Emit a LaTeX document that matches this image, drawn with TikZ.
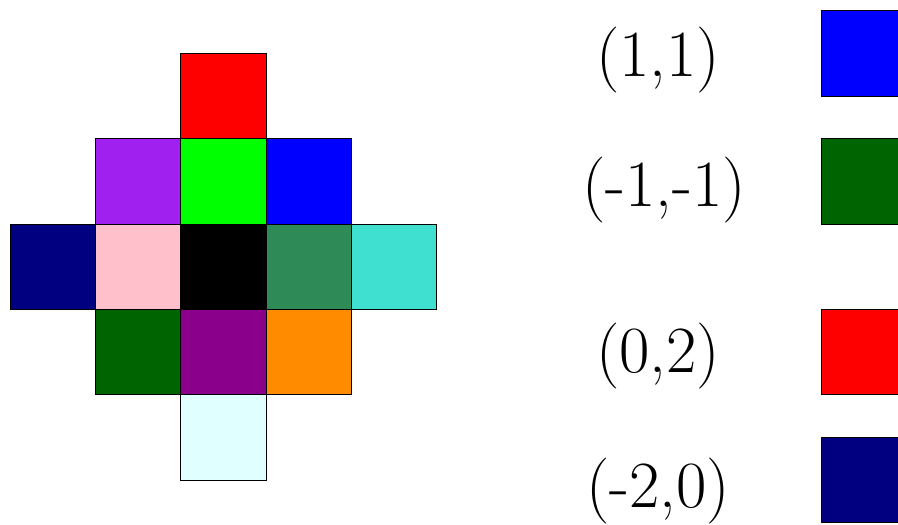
\documentclass[tikz,border=0pt]{standalone}
\usepackage{xcolor}
\definecolor{cpurple}{HTML}{A020F0}
\definecolor{cgreen}{HTML}{00FF00}
\definecolor{cblue}{HTML}{0000FF}
\definecolor{cred}{HTML}{FF0000}
\definecolor{cnavy}{HTML}{000080}
\definecolor{cpink}{HTML}{FFC0CB}
\definecolor{cseagreen}{HTML}{2E8B57}
\definecolor{cturq}{HTML}{40E0D0}
\definecolor{cdkgreen}{HTML}{006400}
\definecolor{cdkmag}{HTML}{8B008B}
\definecolor{corange}{HTML}{FF8C00}
\definecolor{clcyan}{HTML}{E0FFFF}
\begin{document}
\begin{tikzpicture}[x=1pt,y=-1pt,
  cell/.style={draw=black,line width=0.9pt,rectangle,inner sep=0pt,minimum size=85.33pt},
  lbl/.style={anchor=base,inner sep=0pt,font=\fontsize{66}{70}\selectfont}]
\useasboundingbox (0,0) rectangle (898,525);
\clip (0,0) rectangle (898,525);
\fill[white] (0,0) rectangle (898,525);
% grid
\node[cell,fill=cred]      (r0c2) at (223.33,96) {};
\node[cell,fill=cpurple]   (r1c1) at (138,181.33) {};
\node[cell,fill=cgreen]    (r1c2) at (223.33,181.33) {};
\node[cell,fill=cblue]     (r1c3) at (308.67,181.33) {};
\node[cell,fill=cnavy]     (r2c0) at (52.67,266.67) {};
\node[cell,fill=cpink]     (r2c1) at (138,266.67) {};
\node[cell,fill=black]     (r2c2) at (223.33,266.67) {};
\node[cell,fill=cseagreen] (r2c3) at (308.67,266.67) {};
\node[cell,fill=cturq]     (r2c4) at (394,266.67) {};
\node[cell,fill=cdkgreen]  (r3c1) at (138,352) {};
\node[cell,fill=cdkmag]    (r3c2) at (223.33,352) {};
\node[cell,fill=corange]   (r3c3) at (308.67,352) {};
\node[cell,fill=clcyan]    (r4c2) at (223.33,437.33) {};
% legend
\node[lbl] (t1) at (658,76.2) {(1,1)};
\node[lbl] (t2) at (664,206.5) {(-1,-1)};
\node[lbl] (t3) at (658,372.5) {(0,2)};
\node[lbl] (t4) at (658,507.5) {(-2,0)};
\node[cell,fill=cblue]   (l1) at (863.67,53.5) {};
\node[cell,fill=cdkgreen](l2) at (863.67,181.33) {};
\node[cell,fill=cred]    (l3) at (863.67,352) {};
\node[cell,fill=cnavy]   (l4) at (863.67,480) {};
\end{tikzpicture}
\end{document}
